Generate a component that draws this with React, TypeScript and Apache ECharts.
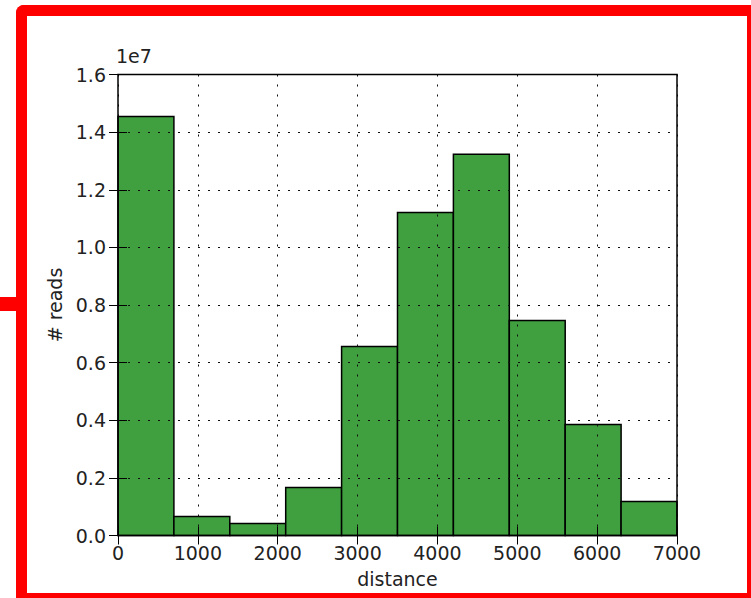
import React, { useEffect, useRef } from "react";
import * as echarts from "echarts";

const binEdges = [0, 700, 1400, 2100, 2800, 3500, 4200, 4900, 5600, 6300, 7000];
const counts = [14540000, 660000, 420000, 1670000, 6560000, 11210000, 13230000, 7460000, 3850000, 1180000];
const xTicks = [0, 1000, 2000, 3000, 4000, 5000, 6000, 7000];
const yTickStep = 2000000;

const FONT = "DejaVu Sans";
const FS = 19;

export default function App() {
  const ref = useRef<HTMLDivElement>(null);
  useEffect(() => {
    const chart = echarts.init(ref.current!, undefined, { renderer: "svg" });
    const data = counts.map((c, i) => [binEdges[i], binEdges[i + 1], c]);
    const grid = { left: 118, top: 74.5, width: 559, height: 461 };
    const dotted = { color: "#111", width: 1, type: [2, 8] as any };
    const tick = { show: true, inside: true, length: 9, lineStyle: { color: "#000", width: 1 } };
    chart.setOption({
      animation: false,
      backgroundColor: "#fff",
      grid: { ...grid, show: true, borderColor: "#000", borderWidth: 1.5, backgroundColor: "transparent", z: 4 },
      xAxis: [
        {
          type: "value",
          min: 0,
          max: 7000,
          interval: 1000,
          z: 3,
          axisLine: { show: false },
          axisTick: tick,
          axisLabel: { color: "#222", fontFamily: FONT, fontSize: FS, margin: 8, formatter: (v: number) => (xTicks.includes(v) ? String(v) : "") },
          splitLine: { show: true, lineStyle: dotted },
          name: "distance",
          nameLocation: "middle",
          nameGap: 34,
          nameTextStyle: { color: "#222", fontFamily: FONT, fontSize: FS },
        },
        {
          type: "value",
          position: "top",
          min: 0,
          max: 7000,
          interval: 1000,
          z: 3,
          axisLine: { show: false },
          axisTick: tick,
          axisLabel: { show: false },
          splitLine: { show: false },
        },
      ],
      yAxis: [
        {
          type: "value",
          min: 0,
          max: 16000000,
          interval: yTickStep,
          z: 3,
          axisLine: { show: false },
          axisTick: tick,
          axisLabel: { color: "#222", fontFamily: FONT, fontSize: FS, margin: 12, formatter: (v: number) => (v / 1e7).toFixed(1) },
          splitLine: { show: true, lineStyle: dotted },
          name: "# reads",
          nameLocation: "middle",
          nameGap: 54,
          nameRotate: 90,
          nameTextStyle: { color: "#222", fontFamily: FONT, fontSize: FS },
        },
        {
          type: "value",
          position: "right",
          min: 0,
          max: 16000000,
          interval: yTickStep,
          z: 3,
          axisLine: { show: false },
          axisTick: tick,
          axisLabel: { show: false },
          splitLine: { show: false },
        },
      ],
      series: [
        {
          type: "custom",
          xAxisIndex: 0,
          yAxisIndex: 0,
          z: 1,
          data,
          encode: { x: [0, 1], y: 2 },
          renderItem: (params: any, api: any) => {
            const p0 = api.coord([api.value(0), api.value(2)]);
            const p1 = api.coord([api.value(1), 0]);
            return {
              type: "rect",
              shape: { x: p0[0], y: p0[1], width: p1[0] - p0[0], height: p1[1] - p0[1] },
              style: { fill: "#40a040", stroke: "#000", lineWidth: 1.5 },
            };
          },
        },
      ],
      graphic: [
        { type: "text", left: 116, top: 46, z: 10, style: { text: "1e7", fontFamily: FONT, fontSize: FS, fill: "#222" } },
        { type: "rect", z: 20, shape: { x: 16, y: 5, width: 11, height: 593, r: [8, 0, 0, 0] }, style: { fill: "#ff0000" } },
        { type: "rect", z: 20, shape: { x: 16, y: 5, width: 735, height: 11, r: [8, 0, 0, 0] }, style: { fill: "#ff0000" } },
        { type: "rect", z: 20, shape: { x: 747, y: 5, width: 4, height: 593 }, style: { fill: "#ff0000" } },
        { type: "rect", z: 20, shape: { x: 16, y: 593, width: 735, height: 5 }, style: { fill: "#ff0000" } },
        { type: "rect", z: 20, shape: { x: 0, y: 297, width: 20, height: 14 }, style: { fill: "#ff0000" } },
      ],
    });
    return () => chart.dispose();
  }, []);
  return <div ref={ref} style={{ position: "absolute", left: 0, top: 0, width: 751, height: 598 }} />;
}
